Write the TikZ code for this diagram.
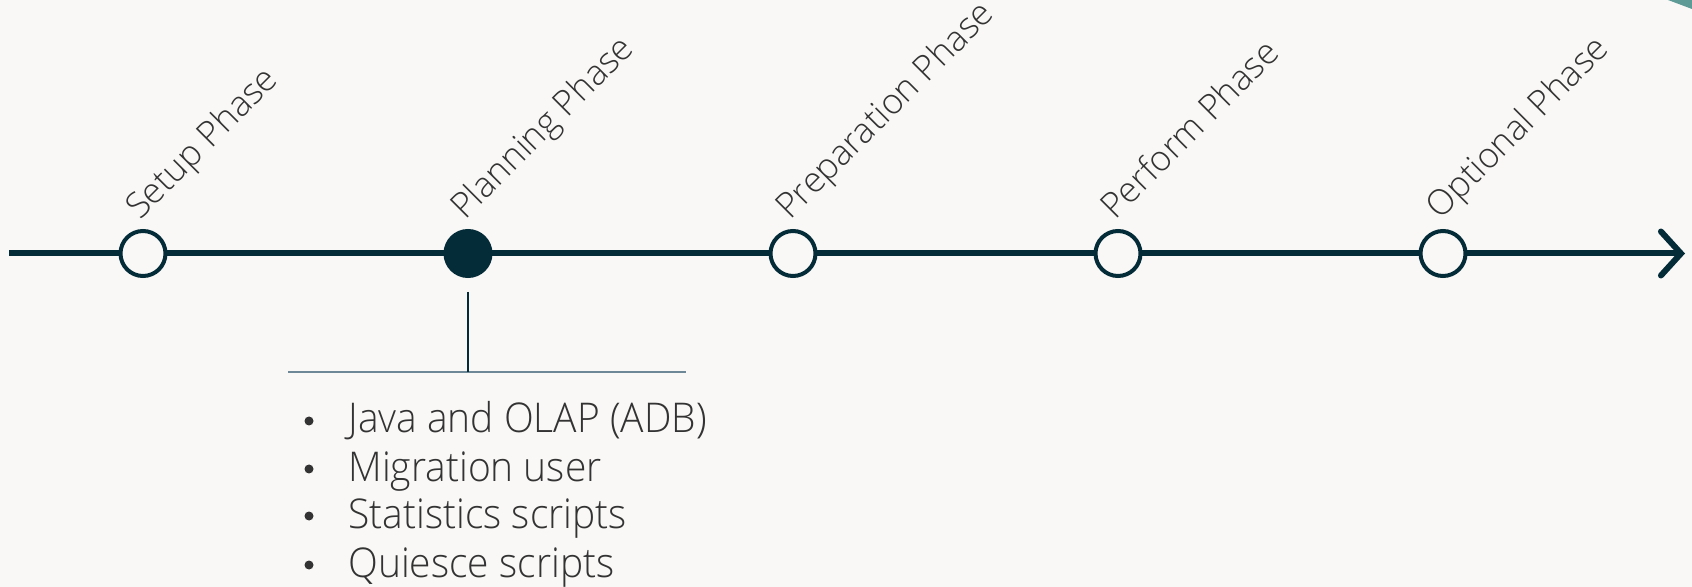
\documentclass[tikz,border=0pt]{standalone}
\usepackage{fontspec}
\setmainfont{Open Sans}[UprightFont=* Light]
\newfontfamily\bulfont{Open Sans}[UprightFont=* Light,FakeStretch=0.95]
\usetikzlibrary{arrows.meta}
\definecolor{bgc}{HTML}{F9F8F6}
\definecolor{darkline}{HTML}{042B38}
\definecolor{txtc}{HTML}{333333}
\definecolor{barc}{HTML}{6E8898}
\definecolor{tealc}{HTML}{5E9A96}
\begin{document}
\begin{tikzpicture}[x=0.5pt,y=-0.5pt,
  phase/.style={circle,draw=darkline,line width=2pt,fill=bgc,minimum size=22.5pt,inner sep=0pt},
  phaseon/.style={phase,fill=darkline},
  lbl/.style={anchor=base west,rotate=45,font=\fontsize{17.6pt}{21pt}\selectfont,text=txtc,inner sep=0pt},
  bul/.style={anchor=base west,font=\bulfont\fontsize{20.5pt}{24pt}\selectfont,text=txtc,inner sep=0pt},
  dot/.style={circle,fill=txtc,minimum size=4.5pt,inner sep=0pt}]
\fill[bgc] (0,0) rectangle (1692,587);
\useasboundingbox (0,0) rectangle (1692,587);
\fill[tealc] (1668,0) .. controls (1676,3) and (1684,6) .. (1692,9) -- (1692,0) -- cycle;
\coordinate (start) at (9,253.5);
\coordinate (end) at (1685,253.5);
\draw[darkline,line width=3pt,-{Straight Barb[length=10pt,width=22pt,line cap=round]}] (start) -- (end);
\node[phase] (c1) at (143,253.5) {};
\node[phaseon] (c2) at (468,253.5) {};
\node[phase] (c3) at (793,253.5) {};
\node[phase] (c4) at (1118,253.5) {};
\node[phase] (c5) at (1443,253.5) {};
\node[lbl] (l1) at (140,221) {Setup Phase};
\node[lbl] (l2) at (465,221) {Planning Phase};
\node[lbl] (l3) at (790,221) {Preparation Phase};
\node[lbl] (l4) at (1115,221) {Perform Phase};
\node[lbl] (l5) at (1440,221) {Optional Phase};
\coordinate (barL) at (288,372);
\coordinate (barR) at (686,372);
\coordinate (barM) at (468,372);
\coordinate (stem) at (468,292);
\draw[barc,line width=0.75pt] (barL) -- (barR);
\draw[darkline,line width=0.65pt] (stem) -- (barM);
\node[dot] (d1) at (309,421) {};
\node[dot] (d2) at (309,469) {};
\node[dot] (d3) at (309,516) {};
\node[dot] (d4) at (309,565) {};
\node[bul] (b1) at (348,433) {Java and OLAP (ADB)};
\node[bul] (b2) at (348,481) {Migration user};
\node[bul] (b3) at (348,528) {Statistics scripts};
\node[bul] (b4) at (348,577) {Quiesce scripts};
\end{tikzpicture}
\end{document}
